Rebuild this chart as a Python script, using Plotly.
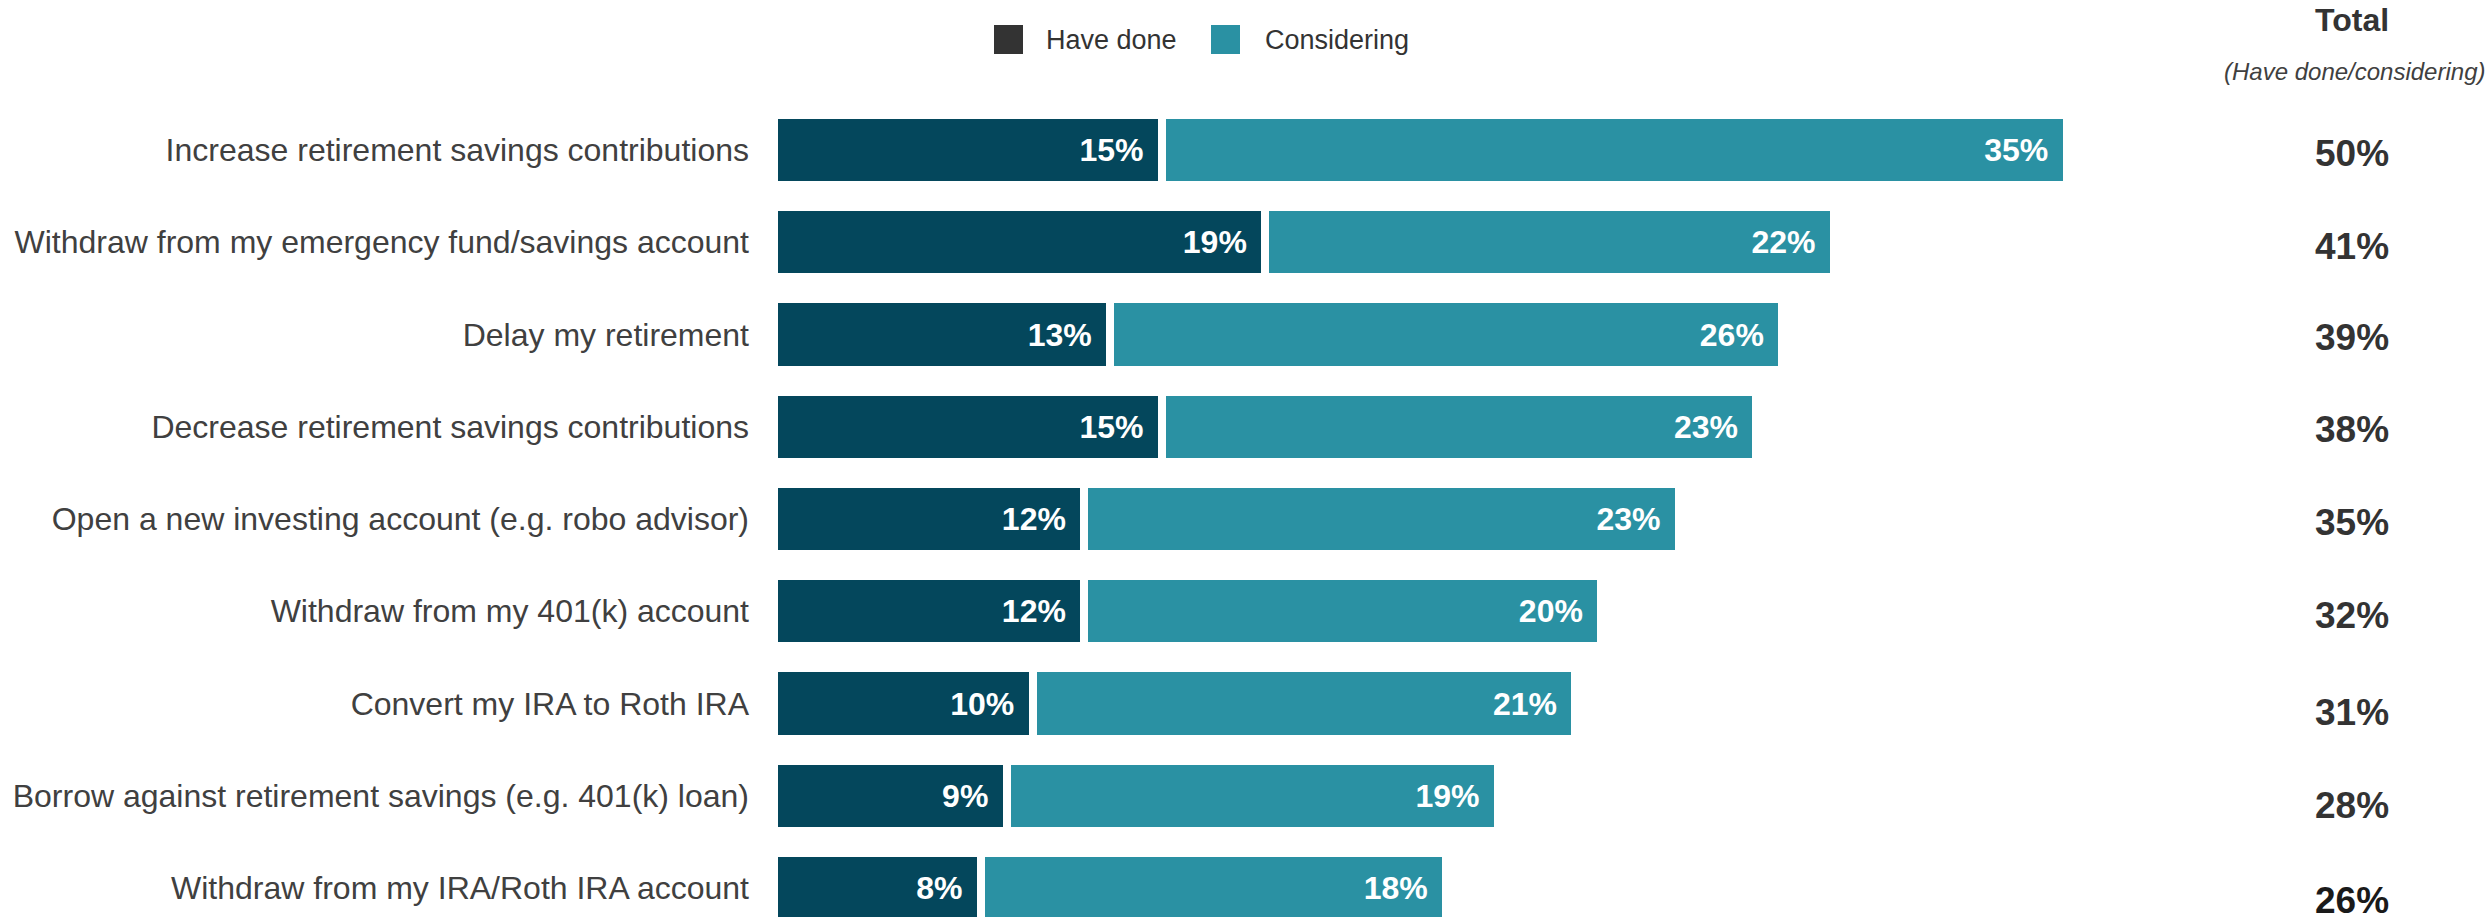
import plotly.graph_objects as go

categories = [
    "Increase retirement savings contributions",
    "Withdraw from my emergency fund/savings account",
    "Delay my retirement",
    "Decrease retirement savings contributions",
    "Open a new investing account (e.g. robo advisor)",
    "Withdraw from my 401(k) account",
    "Convert my IRA to Roth IRA",
    "Borrow against retirement savings (e.g. 401(k) loan)",
    "Withdraw from my IRA/Roth IRA account",
]
have_done = [15, 19, 13, 15, 12, 12, 10, 9, 8]
considering = [35, 22, 26, 23, 23, 20, 21, 19, 18]
totals = [50, 41, 39, 38, 35, 32, 31, 28, 26]

DARK = "#04475C"
TEAL = "#2A91A3"
FONT = "Arial, Liberation Sans, sans-serif"

W, H = 2491, 917
ML = 774
PW = W - ML
PX_PER_UNIT = 25.85
XMAX = PW / PX_PER_UNIT
PITCH = 92.25
ROW0 = 150

# vertical nudges of the total labels (px, negative = down), as in the reference
total_shift = [-3, -4, -3, -3, -3, -4, -9, -10, -12]

PAD = "\u00a0\u2009"

fig = go.Figure()
fig.add_trace(go.Bar(
    y=categories, x=have_done, orientation="h", name="Have done",
    marker=dict(color=DARK, line=dict(color="white", width=8)),
    text=[f"{v}%{PAD}" for v in have_done], textposition="inside",
    insidetextanchor="end",
    textfont=dict(family=FONT, size=32, color="white", weight="bold"),
    width=0.76, showlegend=False, hoverinfo="skip",
))
fig.add_trace(go.Bar(
    y=categories, x=considering, orientation="h", name="Considering",
    marker=dict(color=TEAL, line=dict(color="white", width=8)),
    text=[f"{v}%{PAD}" for v in considering], textposition="inside",
    insidetextanchor="end",
    textfont=dict(family=FONT, size=32, color="white", weight="bold"),
    width=0.76, showlegend=False, hoverinfo="skip",
))

def px_x(px):
    return (px - ML) / PW

def px_y(py):
    return 1 - py / H

annotations = []
for i, (c, t) in enumerate(zip(categories, totals)):
    annotations.append(dict(
        x=px_x(2352), xref="paper", y=c, yref="y", text=f"<b>{t}%</b>",
        showarrow=False, xanchor="center", yanchor="middle", yshift=total_shift[i],
        font=dict(family=FONT, size=37, color="#333333" if i < len(categories) - 1 else "#1a1a1a"),
    ))
annotations.append(dict(
    x=px_x(2352), xref="paper", y=px_y(20), yref="paper", text="<b>Total</b>",
    showarrow=False, xanchor="center", yanchor="middle",
    font=dict(family=FONT, size=32, color="#333333"),
))
annotations.append(dict(
    x=px_x(2354), xref="paper", y=px_y(72), yref="paper", text="<i>(Have done/considering)</i>",
    showarrow=False, xanchor="center", yanchor="middle",
    font=dict(family=FONT, size=24, color="#404040"),
))
# legend
legend_items = [("Have done", "#333333", 994, 1044), ("Considering", TEAL, 1211, 1263)]
shapes = []
for name, col, sx, tx in legend_items:
    shapes.append(dict(type="rect", xref="paper", yref="paper",
                       x0=px_x(sx), x1=px_x(sx + 29), y0=px_y(25), y1=px_y(54),
                       fillcolor=col, line=dict(width=0)))
    annotations.append(dict(
        x=px_x(tx), xref="paper", y=px_y(40), yref="paper", text=name,
        showarrow=False, xanchor="left", yanchor="middle",
        font=dict(family=FONT, size=27, color="#333333"),
    ))

r1 = -ROW0 / PITCH
r0 = r1 + H / PITCH

fig.update_layout(
    width=W, height=H, barmode="stack",
    margin=dict(l=ML, r=0, t=0, b=0),
    paper_bgcolor="white", plot_bgcolor="white",
    xaxis=dict(range=[0, XMAX], showgrid=False, zeroline=False, showticklabels=False,
               showline=False, fixedrange=True),
    yaxis=dict(categoryorder="array", categoryarray=categories, range=[r0, r1],
               showgrid=False, zeroline=False, showline=False,
               tickfont=dict(family=FONT, size=32, color="#404040"),
               ticks="", ticklabelstandoff=24, fixedrange=True),
    annotations=annotations, shapes=shapes,
)

fig.write_html("out.html")
